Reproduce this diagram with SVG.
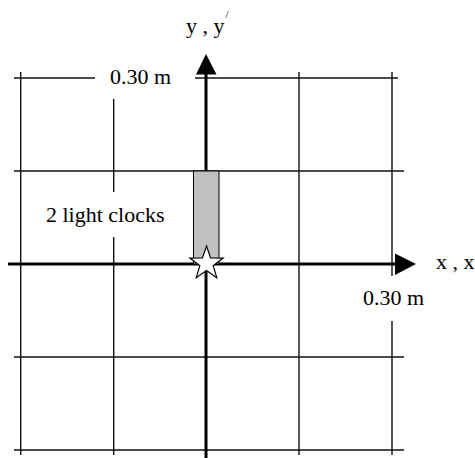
<svg xmlns="http://www.w3.org/2000/svg" width="475" height="458" viewBox="0 0 475 458">
<style>
  .grid line { stroke: #111; stroke-width: 1.4; fill: none; }
  .axis { stroke: #000; stroke-width: 3; fill: none; }
  .head { fill: #000; stroke: none; }
  text { font-family: "Liberation Serif", "Times New Roman", serif; font-size: 22px; fill: #000; }
  .prime { font-size: 11px; }
</style>
<rect x="0" y="0" width="475" height="458" fill="#fff"/>
<g id="grid" class="grid">
  <line x1="14" y1="78" x2="95" y2="78"/>
  <line x1="195" y1="78" x2="398" y2="78"/>
  <line x1="14" y1="171" x2="404" y2="171"/>
  <line x1="14" y1="357" x2="404" y2="357"/>
  <line x1="14" y1="450" x2="404" y2="450"/>
  <line x1="20.7" y1="72" x2="20.7" y2="455"/>
  <line x1="113.7" y1="99" x2="113.7" y2="192"/>
  <line x1="113.7" y1="237" x2="113.7" y2="455"/>
  <line x1="299" y1="72" x2="299" y2="455"/>
  <line x1="392" y1="72" x2="392" y2="276"/>
  <line x1="392" y1="321" x2="392" y2="455"/>
</g>
<g id="connectors">
  <g id="y-axis">
    <line class="axis" x1="206" y1="458" x2="206" y2="73"/>
    <polygon class="head" points="206,54 196,74.5 216.5,74.5"/>
  </g>
  <g id="x-axis">
    <line class="axis" x1="8" y1="264" x2="396" y2="264"/>
    <polygon class="head" points="395,253.5 395,275 416,264"/>
  </g>
</g>
<g id="light-clocks">
  <rect x="193.5" y="171" width="25.5" height="93" fill="#c0c0c0" stroke="#000" stroke-width="1"/>
</g>
<g id="star">
  <polygon points="206.5,246 210.61,257.84 223.14,258.09 213.16,265.66 216.79,277.66 206.5,270.5 196.21,277.66 199.84,265.66 189.86,258.09 202.39,257.84" fill="#fff" stroke="#000" stroke-width="1.2" stroke-linejoin="miter"/>
</g>
<g id="labels">
  <text x="186" y="33">y , y<tspan class="prime" dx="1" dy="-15">/</tspan></text>
  <text x="436" y="268.5">x , x<tspan class="prime" dx="1" dy="-13">/</tspan></text>
  <text x="110" y="84">0.30 m</text>
  <text x="363" y="305">0.30 m</text>
  <text x="46" y="222">2 light clocks</text>
</g>
</svg>
